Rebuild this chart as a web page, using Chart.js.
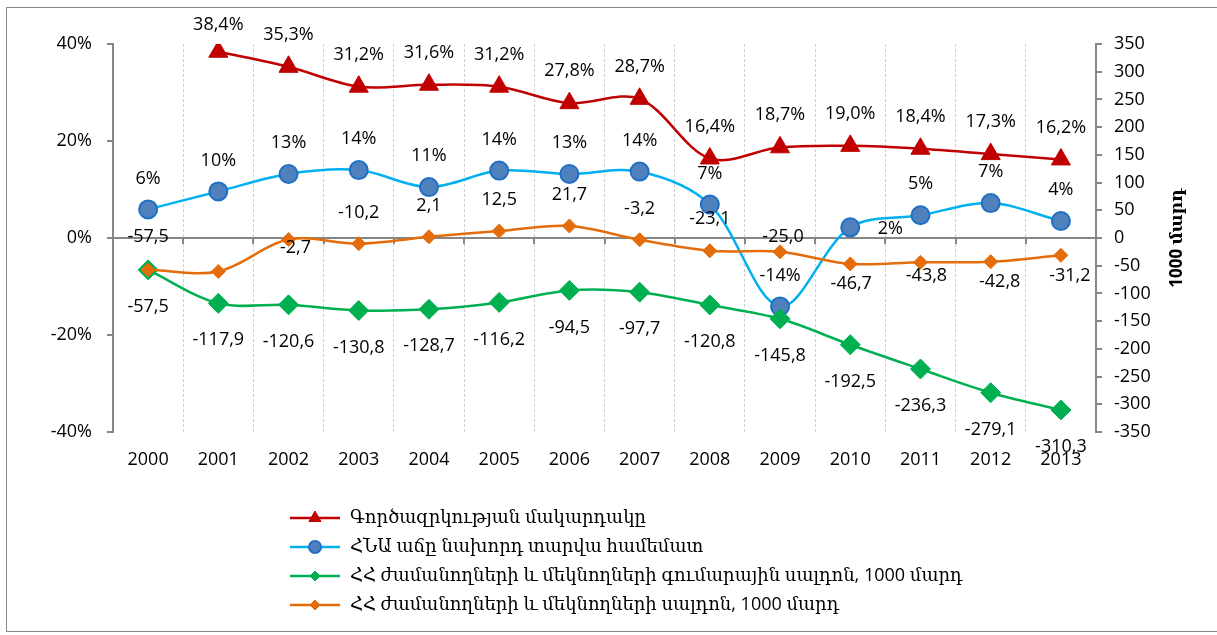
<!DOCTYPE html>
<html>
<head>
<meta charset="utf-8">
<script src="https://cdn.jsdelivr.net/npm/chart.js@4.4.1/dist/chart.umd.min.js"></script>
<style>
  html, body { margin: 0; padding: 0; background: #fff; }
  #wrap { position: relative; width: 1217px; height: 635px; }
</style>
</head>
<body>
<div id="wrap"><canvas id="chart" width="1217" height="635"></canvas></div>
<script>
// Data
const years = ['2000', '2001', '2002', '2003', '2004', '2005', '2006',
  '2007', '2008', '2009', '2010', '2011', '2012', '2013'];
const unemployment = [null, 38.4, 35.3, 31.2, 31.6, 31.2, 27.8, 28.7, 16.4, 18.7, 19.0, 18.4, 17.3, 16.2];
const gdpGrowth = [5.9, 9.6, 13.2, 14.0, 10.5, 13.9, 13.2, 13.7, 6.9, -14.1, 2.2, 4.7, 7.2, 3.5];
const migrationTotal = [-57.5, -117.9, -120.6, -130.8, -128.7, -116.2, -94.5, -97.7, -120.8, -145.8, -192.5, -236.3, -279.1, -310.3];
const migrationYear = [-57.5, -60.4, -2.7, -10.2, 2.1, 12.5, 21.7, -3.2, -23.1, -25.0, -46.7, -43.8, -42.8, -31.2];

const leftTicks = [-40, -20, 0, 20, 40];
const rightTicks = [-350, -300, -250, -200, -150, -100, -50, 0, 50, 100, 150, 200, 250, 300, 350];

const seriesNames = [
  'Գործազրկության մակարդակը',
  'ՀՆԱ աճը նախորդ տարվա համեմատ',
  'ՀՀ ժամանողների և մեկնողների գումարային սալդոն, 1000 մարդ',
  'ՀՀ ժամանողների և մեկնողների սալդոն, 1000 մարդ'
];
const axisTitleRight = '1000 մարդ';

// label placement (dx, dy from the point), null = no label
const redLabelPos = [null, [0, -27], [0, -32], [0, -32], [0, -32], [0, -32], [0, -32], [0, -32], [0, -32], [0, -32], [0, -32], [0, -32], [0, -32], [0, -32]];
const blueLabelPos = [[0, -31], [0, -31], [0, -31], [0, -31], [0, -31], [0, -31], [0, -31], [0, -31], [0, -31], [0, -31], [40, 2], [0, -31], [0, -31], [0, -31]];
const greenLabelPos = years.map(() => [0, 37]);
const orangeLabelPos = [[0, -33], null, [7, 8], [0, -31], [0, -31], [0, -31], [0, -31], [0, -31], [0, -32], [3, -15], [1, 20], [6, 14], [9, 20], [9, 21]];

const comma = (v, d) => v.toFixed(d).replace('.', ',');
const labelFont = '18px "Open Sans", "DejaVu Sans", sans-serif';
const tickFont = { family: '"Open Sans", "DejaVu Sans", sans-serif', size: 18 };
const axisGray = '#868686';

const datasets = [
  {
    label: seriesNames[0], data: unemployment, yAxisID: 'y',
    borderColor: '#C00000', backgroundColor: '#C00000', borderWidth: 2.5,
    pointStyle: 'triangle', pointRadius: 11, pointHoverRadius: 11, pointBorderWidth: 1,
    tension: 0.33, order: 3,
    labelPos: redLabelPos, fmt: v => comma(v, 1) + '%', legendRadius: 7
  },
  {
    label: seriesNames[1], data: gdpGrowth, yAxisID: 'y',
    borderColor: '#00B0F0', backgroundColor: '#4F81BD', borderWidth: 2.5,
    pointBorderColor: '#1F6FC4', pointStyle: 'circle', pointRadius: 9, pointHoverRadius: 9, pointBorderWidth: 2,
    tension: 0.33, order: 2,
    labelPos: blueLabelPos, fmt: v => Math.round(v) + '%', legendRadius: 6
  },
  {
    label: seriesNames[2], data: migrationTotal, yAxisID: 'y2',
    borderColor: '#00B050', backgroundColor: '#00B050', borderWidth: 2.5,
    pointStyle: 'rectRot', pointRadius: 10, pointHoverRadius: 10, pointBorderWidth: 1,
    tension: 0.33, order: 1,
    labelPos: greenLabelPos, fmt: v => comma(v, 1), legendRadius: 5
  },
  {
    label: seriesNames[3], data: migrationYear, yAxisID: 'y2',
    borderColor: '#E46C0A', backgroundColor: '#E46C0A', borderWidth: 2.5,
    pointStyle: 'rectRot', pointRadius: 7, pointHoverRadius: 7, pointBorderWidth: 1,
    tension: 0.33, order: 0,
    labelPos: orangeLabelPos, fmt: v => comma(v, 1), legendRadius: 5
  }
];

// zero line with small ticks between the years, and the outer frame
const zeroLine = {
  id: 'zeroLine',
  beforeDraw(chart) {
    const ctx = chart.ctx;
    ctx.save();
    ctx.strokeStyle = '#898989';
    ctx.lineWidth = 1;
    ctx.strokeRect(6.5, 7.5, 1225, 624);
    ctx.restore();
  },
  beforeDatasetsDraw(chart) {
    const { ctx, chartArea } = chart;
    const y0 = Math.round(chart.scales.y.getPixelForValue(0));
    const xs = chart.scales.x;
    const step = (chartArea.right - chartArea.left) / years.length;
    ctx.save();
    ctx.strokeStyle = axisGray;
    ctx.lineWidth = 2;
    ctx.beginPath();
    ctx.moveTo(chartArea.left, y0);
    ctx.lineTo(chartArea.right, y0);
    for (let i = 1; i < years.length; i++) {
      const x = Math.round(xs.getPixelForValue(i) - step / 2);
      ctx.moveTo(x, y0);
      ctx.lineTo(x, y0 + 6);
    }
    ctx.stroke();
    ctx.restore();
  }
};

// value labels
const valueLabels = {
  id: 'valueLabels',
  afterDatasetsDraw(chart) {
    const ctx = chart.ctx;
    ctx.save();
    ctx.font = labelFont;
    ctx.fillStyle = '#000';
    ctx.textAlign = 'center';
    ctx.textBaseline = 'middle';
    chart.data.datasets.forEach((ds, i) => {
      const meta = chart.getDatasetMeta(i);
      meta.data.forEach((pt, j) => {
        const v = ds.data[j];
        const pos = ds.labelPos[j];
        if (v === null || !pos) return;
        ctx.fillText(ds.fmt(v), pt.x + pos[0], pt.y + pos[1]);
      });
    });
    ctx.restore();
  }
};

// legend under the chart and the rotated right axis title
const legendAndTitle = {
  id: 'legendAndTitle',
  afterDraw(chart) {
    const ctx = chart.ctx;
    ctx.save();
    const rows = [518, 547, 576, 605];
    chart.data.datasets.forEach((ds, i) => {
      const y = rows[i];
      ctx.strokeStyle = ds.borderColor;
      ctx.lineWidth = 2.5;
      ctx.beginPath();
      ctx.moveTo(290, y);
      ctx.lineTo(340, y);
      ctx.stroke();
      ctx.fillStyle = ds.backgroundColor;
      ctx.strokeStyle = ds.pointBorderColor || ds.backgroundColor;
      ctx.lineWidth = ds.pointBorderWidth;
      Chart.helpers.drawPoint(ctx, { pointStyle: ds.pointStyle, radius: ds.legendRadius, borderWidth: ds.pointBorderWidth, rotation: 0 }, 315, y);
      ctx.fillStyle = '#000';
      ctx.font = '18px "Open Sans", "DejaVu Serif", serif';
      ctx.textAlign = 'left';
      ctx.textBaseline = 'middle';
      ctx.fillText(ds.label, 350, y);
    });

    ctx.translate(1177, 238);
    ctx.rotate(-Math.PI / 2);
    ctx.font = 'bold 17px "Open Sans", "DejaVu Serif", serif';
    ctx.textAlign = 'center';
    ctx.textBaseline = 'middle';
    ctx.fillStyle = '#000';
    ctx.fillText(axisTitleRight, 0, 0);
    ctx.restore();
  }
};

new Chart(document.getElementById('chart'), {
  type: 'line',
  data: { labels: years, datasets: datasets },
  options: {
    responsive: false,
    animation: false,
    events: [],
    layout: { padding: { top: 44, bottom: 153, left: 0, right: 0 } },
    plugins: { legend: { display: false }, tooltip: { enabled: false } },
    scales: {
      x: {
        offset: true,
        ticks: { color: '#000', font: tickFont, padding: 17, maxRotation: 0, autoSkip: false },
        grid: { offset: true, color: '#CFCFCF', lineWidth: 1, drawTicks: false },
        border: { display: false, dash: [3, 2] },
        afterFit: s => { s.height = 50; }
      },
      y: {
        position: 'left', min: leftTicks[0], max: leftTicks[leftTicks.length - 1],
        afterBuildTicks: s => { s.ticks = leftTicks.map(v => ({ value: v })); },
        ticks: { color: '#000', font: tickFont, padding: 15, callback: v => v + '%' },
        grid: { drawOnChartArea: false, drawTicks: true, tickLength: 6, color: axisGray, lineWidth: 2 },
        border: { color: axisGray, width: 2 },
        afterFit: s => { s.width = 113; }
      },
      y2: {
        position: 'right', min: rightTicks[0], max: rightTicks[rightTicks.length - 1],
        afterBuildTicks: s => { s.ticks = rightTicks.map(v => ({ value: v })); },
        ticks: { color: '#000', font: tickFont, padding: 12 },
        grid: { drawOnChartArea: false, drawTicks: true, tickLength: 6, color: axisGray, lineWidth: 2 },
        border: { color: axisGray, width: 2 },
        afterFit: s => { s.width = 121; }
      }
    }
  },
  plugins: [zeroLine, valueLabels, legendAndTitle]
});
</script>
</body>
</html>
